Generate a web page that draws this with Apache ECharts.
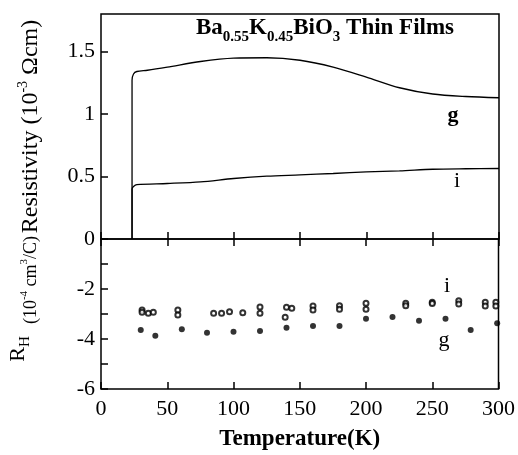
<!DOCTYPE html>
<html>
<head>
<meta charset="utf-8">
<script src="https://cdn.jsdelivr.net/npm/echarts@6/dist/echarts.min.js"></script>
<style>
  html, body { margin: 0; padding: 0; background: #fff; }
  #chart { width: 518px; height: 455px; }
</style>
</head>
<body>
<div id="chart"></div>
<script>
// resistivity curves (top panel), T in K, rho in 10^-3 Ohm cm
const rhoT_g = [23.4, 23.4, 24.5, 27, 35, 50, 75, 100, 125, 150, 175, 200, 225, 250, 275, 300]
const rho_g = [0, 1.27, 1.32, 1.34, 1.35, 1.375, 1.42, 1.447, 1.45, 1.43, 1.375, 1.295, 1.21, 1.16, 1.14, 1.13]
const rhoT_i = [23.4, 23.4, 24.5, 27, 50, 75, 100, 125, 150, 175, 200, 225, 250, 275, 300]
const rho_i = [0, 0.4, 0.42, 0.435, 0.444, 0.457, 0.484, 0.503, 0.513, 0.524, 0.537, 0.545, 0.558, 0.562, 0.564]

// Hall coefficient (bottom panel), 10^-4 cm^3/C
const hallT_g = [30, 41, 61, 80, 100, 120, 140, 160, 180, 200, 220, 240, 260, 279, 299]
const hall_g = [-3.64, -3.87, -3.61, -3.75, -3.71, -3.68, -3.55, -3.48, -3.48, -3.19, -3.12, -3.27, -3.19, -3.64, -3.37]
const hallT_i = [31, 31, 35.7, 39.5, 58, 58, 85, 91, 97, 107, 120, 120, 139, 140, 144, 160, 160, 180, 180, 200, 200, 230, 230, 250, 250, 270, 270, 290, 290, 298, 298]
const hall_i = [-2.84, -2.93, -2.97, -2.93, -2.84, -3.04, -2.97, -2.97, -2.91, -2.95, -2.72, -2.97, -3.13, -2.73, -2.77, -2.68, -2.84, -2.67, -2.81, -2.57, -2.81, -2.57, -2.67, -2.53, -2.58, -2.47, -2.6, -2.53, -2.68, -2.53, -2.68]

const xTicks = [0, 50, 100, 150, 200, 250, 300]
const rhoTicks = [0, 0.5, 1, 1.5]
const hallLabels = [-6, -4, -2]

const zip = (a, b) => a.map((v, k) => [v, b[k]])
const FONT = 'Liberation Serif'

const chart = echarts.init(document.getElementById('chart'))

const frame = { show: true, borderColor: '#000', borderWidth: 1.5, backgroundColor: 'transparent' }
const tick = { show: true, inside: true, length: 7, lineStyle: { color: '#000', width: 1.5 } }

chart.setOption({
  animation: false,
  backgroundColor: '#fff',
  grid: [
    Object.assign({ left: 101, top: 14, width: 398, height: 225 }, frame),
    Object.assign({ left: 101, top: 239, width: 398, height: 150 }, frame)
  ],
  xAxis: [
    {
      gridIndex: 0, type: 'value', min: 0, max: 300, interval: 50, position: 'bottom',
      axisLine: { show: false }, axisTick: tick, axisLabel: { show: false }, splitLine: { show: false }
    },
    {
      gridIndex: 1, type: 'value', min: 0, max: 300, interval: 50, position: 'top',
      axisLine: { show: false }, axisTick: tick, axisLabel: { show: false }, splitLine: { show: false }
    },
    {
      gridIndex: 1, type: 'value', min: 0, max: 300, interval: 50, position: 'bottom',
      axisLine: { show: false }, axisTick: tick, splitLine: { show: false },
      axisLabel: { customValues: xTicks, color: '#000', fontFamily: FONT, fontSize: 22, margin: 9 },
      name: 'Temperature(K)', nameLocation: 'middle', nameGap: 39,
      nameTextStyle: { color: '#000', fontFamily: FONT, fontSize: 23, fontWeight: 'bold' }
    }
  ],
  yAxis: [
    {
      gridIndex: 0, type: 'value', min: 0, max: 1.8,
      axisLine: { show: false }, splitLine: { show: false },
      axisTick: Object.assign({ customValues: rhoTicks }, tick),
      axisLabel: { customValues: rhoTicks, color: '#000', fontFamily: FONT, fontSize: 22, margin: 6 },
      name: 'Resistivity (10{sup|-3} Ωcm)', nameLocation: 'middle', nameGap: 55, nameRotate: 90,
      nameTextStyle: {
        color: '#000', fontFamily: FONT, fontSize: 24,
        rich: { sup: { fontFamily: FONT, fontSize: 14, color: '#000', verticalAlign: 'top', lineHeight: 30 } }
      }
    },
    {
      gridIndex: 1, type: 'value', min: -6, max: 0, interval: 1,
      axisLine: { show: false }, splitLine: { show: false }, axisTick: tick,
      axisLabel: { customValues: hallLabels, color: '#000', fontFamily: FONT, fontSize: 22, margin: 6 }
    }
  ],
  graphic: [
    {
      type: 'text', x: 325, y: 28,
      style: {
        text: 'Ba{sub|0.55}K{sub|0.45}BiO{sub|3} Thin Films',
        align: 'center', verticalAlign: 'middle',
        font: 'bold 23px "Liberation Serif"', fill: '#000',
        rich: { sub: { font: 'bold 15px "Liberation Serif"', fill: '#000', verticalAlign: 'bottom', lineHeight: 34 } }
      }
    },
    { type: 'text', x: 453, y: 115, style: { text: 'g', align: 'center', verticalAlign: 'middle', font: 'bold 22px "Liberation Serif"', fill: '#000' } },
    { type: 'text', x: 457, y: 181, style: { text: 'i', align: 'center', verticalAlign: 'middle', font: '22px "Liberation Serif"', fill: '#000' } },
    { type: 'text', x: 447, y: 286, style: { text: 'i', align: 'center', verticalAlign: 'middle', font: '22px "Liberation Serif"', fill: '#000' } },
    { type: 'text', x: 444, y: 340, style: { text: 'g', align: 'center', verticalAlign: 'middle', font: '22px "Liberation Serif"', fill: '#000' } },
    {
      type: 'text', x: 18, y: 349, rotation: Math.PI / 2,
      style: {
        text: 'R{sub|H}', align: 'center', verticalAlign: 'middle',
        font: '22px "Liberation Serif"', fill: '#000',
        rich: { sub: { font: '15px "Liberation Serif"', fill: '#000', verticalAlign: 'bottom', lineHeight: 30 } }
      }
    },
    {
      type: 'text', x: 31, y: 280, rotation: Math.PI / 2,
      style: {
        text: '(10{sup|-4} cm{sup|3}/C)', align: 'center', verticalAlign: 'middle',
        font: '18px "Liberation Serif"', fill: '#000',
        rich: { sup: { font: '11px "Liberation Serif"', fill: '#000', verticalAlign: 'top', lineHeight: 24 } }
      }
    }
  ],
  series: [
    {
      name: 'rho g', type: 'line', xAxisIndex: 0, yAxisIndex: 0, data: zip(rhoT_g, rho_g),
      showSymbol: false, smooth: 0.3, lineStyle: { color: '#000', width: 1.3 }
    },
    {
      name: 'rho i', type: 'line', xAxisIndex: 0, yAxisIndex: 0, data: zip(rhoT_i, rho_i),
      showSymbol: false, smooth: 0.3, lineStyle: { color: '#000', width: 1.3 }
    },
    {
      name: 'RH i', type: 'scatter', xAxisIndex: 2, yAxisIndex: 1, data: zip(hallT_i, hall_i),
      symbol: 'emptyCircle', symbolSize: 5, itemStyle: { color: '#000', borderWidth: 1.4 }
    },
    {
      name: 'RH g', type: 'scatter', xAxisIndex: 2, yAxisIndex: 1, data: zip(hallT_g, hall_g),
      symbol: 'circle', symbolSize: 6, itemStyle: { color: '#000' }
    }
  ]
})
</script>
</body>
</html>
